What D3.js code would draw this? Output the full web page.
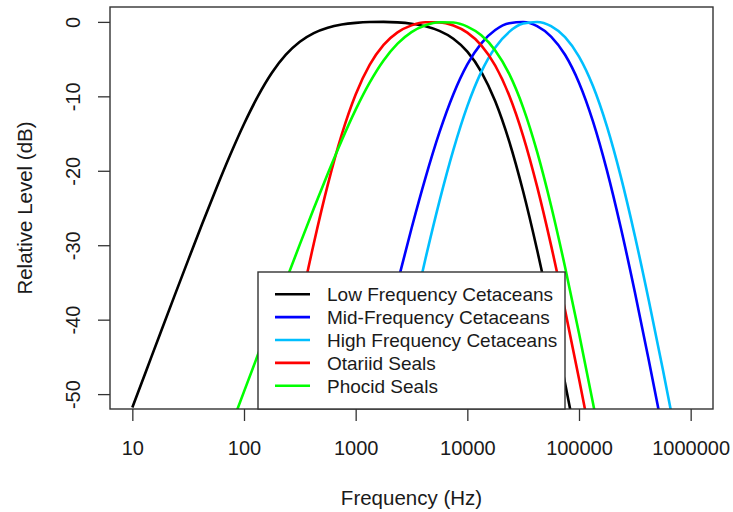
<!DOCTYPE html>
<html>
<head>
<meta charset="utf-8">
<script src="https://cdn.jsdelivr.net/npm/d3@7"></script>
<style>
  body { margin: 0; background: #ffffff; }
  text { font-family: "Liberation Sans", Arial, Helvetica, sans-serif; fill: #1a1a1a; }
</style>
</head>
<body>
<svg id="chart" width="733" height="512"></svg>
<script>
// ---- data ----
const frequencies = [10, 13.34, 17.78, 23.71, 31.62, 42.17, 56.23, 74.99,
  100, 133.4, 177.8, 237.1, 316.2, 421.7, 562.3, 749.9,
  1000, 1334, 1778, 2371, 3162, 4217, 5623, 7499,
  10000, 13335, 17783, 23714, 31623, 42170, 56234, 74989,
  100000, 133352, 177828, 237137, 316228, 421697, 562341, 749894, 1000000];

const lowFrequencyCetaceans = [-51.80, -46.82, -41.85, -36.90, -32.00, -27.16, -22.44, -17.92,
  -13.72, -9.98, -6.84, -4.41, -2.67, -1.51, -0.79, -0.36,
  -0.13, -0.02, 0.00, -0.07, -0.25, -0.59, -1.21, -2.26,
  -3.99, -6.70, -10.67, -16.06, -22.79, -30.65, -39.32, -48.52,
  -58.06, null, null, null, null, null, null, null, null];

const midFrequencyCetaceans = [null, null, null, null, null, null, null, null,
  null, null, null, null, null, null, null, null,
  -58.23, -50.37, -42.61, -35.03, -27.75, -20.95, -14.85, -9.71,
  -5.71, -2.88, -1.09, -0.18, -0.02, -0.57, -1.97, -4.42,
  -8.17, -13.37, -19.95, -27.69, -36.28, -45.44, -54.94, null, null];

const highFrequencyCetaceans = [null, null, null, null, null, null, null, null,
  null, null, null, null, null, null, null, null,
  null, null, -57.32, -48.59, -40.04, -31.82, -24.11, -17.19,
  -11.31, -6.71, -3.43, -1.34, -0.23, -0.01, -0.58, -2.06,
  -4.67, -8.62, -14.04, -20.82, -28.72, -37.42, -46.64, -56.19, null];

const otariidSeals = [null, null, null, null, null, null, null, null,
  null, null, -57.18, -47.64, -38.44, -29.76, -21.89, -15.14,
  -9.75, -5.78, -3.09, -1.41, -0.47, -0.05, -0.06, -0.49,
  -1.45, -3.16, -5.88, -9.89, -15.33, -22.13, -30.02, -38.72,
  -47.94, -57.49, null, null, null, null, null, null, null];

const phocidSeals = [null, null, null, null, null, null, null, -54.66,
  -49.67, -44.69, -39.73, -34.79, -29.89, -25.07, -20.39, -15.92,
  -11.79, -8.16, -5.18, -2.92, -1.37, -0.45, -0.04, -0.09,
  -0.64, -1.81, -3.83, -6.99, -11.51, -17.46, -24.69, -32.92,
  -41.83, -51.19, -60.82, null, null, null, null, null, null];

const seriesNames = ["Low Frequency Cetaceans", "Mid-Frequency Cetaceans",
  "High Frequency Cetaceans", "Otariid Seals", "Phocid Seals"];
const seriesValues = [lowFrequencyCetaceans, midFrequencyCetaceans,
  highFrequencyCetaceans, otariidSeals, phocidSeals];
const seriesColors = ["#000000", "#0000ff", "#00bfff", "#ff0000", "#00ff00"];

const xTickValues = [10, 100, 1000, 10000, 100000, 1000000];
const xTickLabels = ["10", "100", "1000", "10000", "100000", "1000000"];
const yTickValues = [0, -10, -20, -30, -40, -50];
const yTickLabels = ["0", "-10", "-20", "-30", "-40", "-50"];

const xTitle = "Frequency (Hz)";
const yTitle = "Relative Level (dB)";

// ---- layout ----
const plot = { left: 110, right: 713, top: 7, bottom: 409 };
const svg = d3.select("#chart");

const x = d3.scaleLog().domain([Math.pow(10, 0.8), Math.pow(10, 6.2)]).range([plot.left, plot.right]);
const y = d3.scaleLinear().domain([-52, 2]).range([plot.bottom, plot.top]);

svg.append("rect").attr("width", 733).attr("height", 512).attr("fill", "#fff");

svg.append("defs").append("clipPath").attr("id", "clip")
  .append("rect")
  .attr("x", plot.left).attr("y", plot.top)
  .attr("width", plot.right - plot.left).attr("height", plot.bottom - plot.top);

// curves
const line = d3.line()
  .defined(d => d[1] !== null)
  .x(d => x(d[0]))
  .y(d => y(d[1]))
  .curve(d3.curveMonotoneX);

const curves = svg.append("g").attr("clip-path", "url(#clip)");
seriesValues.forEach((vals, i) => {
  const pts = frequencies.map((f, k) => [f, vals[k]]);
  curves.append("path")
    .datum(pts)
    .attr("d", line)
    .attr("fill", "none")
    .attr("stroke", seriesColors[i])
    .attr("stroke-width", 2.6)
    .attr("stroke-linejoin", "round");
});

// axes
const xAxis = d3.axisBottom(x)
  .tickValues(xTickValues)
  .tickFormat((d, i) => xTickLabels[i])
  .tickSize(12);
const gx = svg.append("g").attr("transform", `translate(0,${plot.bottom})`).call(xAxis);
gx.select(".domain").remove();
gx.selectAll(".tick line").attr("stroke", "#333").attr("stroke-width", 1.3);
gx.selectAll(".tick text")
  .attr("y", 46).attr("dy", null)
  .attr("font-size", 20)
  .attr("font-family", "Liberation Sans, Arial, sans-serif")
  .attr("fill", "#1a1a1a");

const yAxis = d3.axisLeft(y)
  .tickValues(yTickValues)
  .tickFormat((d, i) => yTickLabels[i])
  .tickSize(12);
const gy = svg.append("g").attr("transform", `translate(${plot.left},0)`).call(yAxis);
gy.select(".domain").remove();
gy.selectAll(".tick line").attr("stroke", "#333").attr("stroke-width", 1.3);
gy.selectAll(".tick text")
  .attr("x", 0).attr("y", 0).attr("dy", null)
  .attr("text-anchor", "middle")
  .attr("transform", "translate(-30,0) rotate(-90)")
  .attr("font-size", 20)
  .attr("font-family", "Liberation Sans, Arial, sans-serif")
  .attr("fill", "#1a1a1a");

// plot box
svg.append("rect")
  .attr("x", plot.left).attr("y", plot.top)
  .attr("width", plot.right - plot.left).attr("height", plot.bottom - plot.top)
  .attr("fill", "none").attr("stroke", "#333").attr("stroke-width", 1.4);

// axis titles
svg.append("text")
  .attr("x", (plot.left + plot.right) / 2).attr("y", 505)
  .attr("text-anchor", "middle").attr("font-size", 20.5)
  .text(xTitle);
svg.append("text")
  .attr("transform", `translate(32,${(plot.top + plot.bottom) / 2}) rotate(-90)`)
  .attr("text-anchor", "middle").attr("font-size", 20.5)
  .text(yTitle);

// legend
const legend = svg.append("g");
legend.append("rect")
  .attr("x", 258).attr("y", 272)
  .attr("width", 565 - 258).attr("height", plot.bottom - 272)
  .attr("fill", "#fff").attr("stroke", "#333").attr("stroke-width", 1.4);
const rowY0 = 294.3, rowStep = 22.85;
seriesNames.forEach((name, i) => {
  const ry = rowY0 + i * rowStep;
  legend.append("line")
    .attr("x1", 275).attr("x2", 310).attr("y1", ry).attr("y2", ry)
    .attr("stroke", seriesColors[i]).attr("stroke-width", 2.6);
  legend.append("text")
    .attr("x", 327).attr("y", ry).attr("dy", "0.36em")
    .attr("font-size", 19)
    .text(name);
});
</script>
</body>
</html>
